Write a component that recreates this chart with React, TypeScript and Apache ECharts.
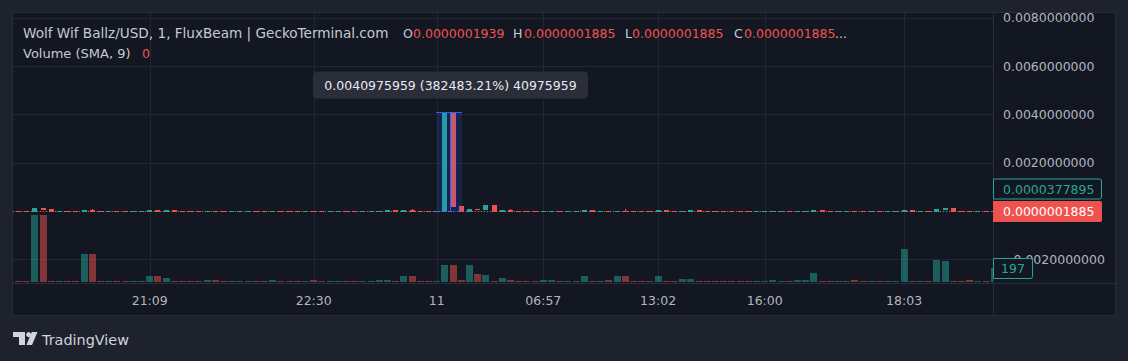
import React, { useEffect, useRef } from "react";
import * as echarts from "echarts";

// ---------- data ----------
const P0 = 1.885e-7; // last price
const P1 = 1.939e-7; // last open
const SPIKE = 0.0040975959;
const U = [P0, P1, P0, P1]; // flat up candle   [open, close, low, high]
const D = [P1, P0, P0, P1]; // flat down candle

// [open, close, low, high]
const CANDLES: number[][] = [
  D, D, [P0, 1.25e-4, P0, 1.25e-4], [1.25e-4, 8.5e-5, 8.5e-5, 1.25e-4], [8.5e-5, P0, P0, 8.5e-5], U, D, D, [P0, 5e-5, P0, 5e-5], [5e-5, P0, P0, 9e-5],
  D, U, D, D, U, U, [P0, 5e-5, P0, 5e-5], [5e-5, P0, P0, 5e-5], [P0, 5e-5, P0, 5e-5], [5e-5, P0, P0, 5e-5],
  D, D, D, U, D, D, U, U, U, D,
  D, U, D, D, D, U, D, D, U, U,
  D, D, U, U, U, [P0, 5e-5, P0, 5e-5], [5e-5, P0, P0, 5e-5], [P0, 5e-5, P0, 5e-5], [5e-5, P0, P0, 9e-5], D,
  D, U, [P0, SPIKE, P0, SPIKE], [SPIKE, 2.1e-4, 2.1e-4, SPIKE], [2.1e-4, P0, P0, 2.1e-4], [P0, 8.5e-5, P0, 8.5e-5], [8.5e-5, 8e-5, 8e-5, 8.5e-5], [8.3e-5, 2.5e-4, 8.3e-5, 2.5e-4], [2.5e-4, P0, P0, 2.5e-4], [P0, 5e-5, P0, 5e-5],
  [5e-5, P0, P0, 9e-5], D, D, D, U, U, D, U, U, [P0, 5e-5, P0, 5e-5],
  [5e-5, P0, P0, 5e-5], U, D, U, [P1, P0, P0, 9e-5], D, D, D, [P0, 5e-5, P0, 5e-5], [5e-5, P0, P0, 5e-5],
  D, U, [P0, 5e-5, P0, 5e-5], [5e-5, P0, P0, 5e-5], D, D, D, D, D, D,
  U, U, U, U, D, U, U, [P0, 5e-5, P0, 5e-5], [5e-5, P0, P0, 5e-5], D,
  U, U, D, D, U, D, U, U, [P0, 5e-5, P0, 5e-5], [5e-5, P0, P0, 5e-5],
  U, D, [P0, 8.5e-5, P0, 8.5e-5], [8.5e-5, 1.25e-4, 8.5e-5, 1.25e-4], [1.25e-4, P0, P0, 1.25e-4], D, D, U, D, U,
];

const VOLUMES = [
  14, 14, 943, 943, 14, 14, 14, 14, 394, 394,
  14, 14, 14, 14, 14, 14, 84, 84, 56, 14,
  14, 14, 14, 28, 28, 14, 14, 14, 14, 14,
  14, 28, 14, 14, 14, 14, 28, 14, 14, 14,
  14, 14, 14, 14, 28, 28, 14, 84, 84, 14,
  14, 14, 239, 239, 28, 239, 113, 98, 14, 56,
  28, 14, 14, 14, 28, 28, 14, 14, 14, 84,
  14, 14, 28, 84, 84, 14, 14, 14, 84, 14,
  14, 42, 42, 14, 14, 14, 14, 14, 14, 14,
  14, 14, 28, 14, 14, 28, 28, 127, 14, 14,
  14, 14, 28, 14, 14, 14, 14, 14, 464, 14,
  14, 14, 310, 295, 14, 14, 28, 14, 14, 197,
];

const TIME_TICKS = [16, 36, 51, 64, 78, 91, 108];
const TIME_LABELS = ["21:09", "22:30", "11", "06:57", "13:02", "16:00", "18:03"];
const PRICE_GRID = [-0.002, 0, 0.002, 0.004, 0.006, 0.008];
const PRICE_LABELS = [-0.002, 0.002, 0.004, 0.006, 0.008];

const TITLE = "Wolf Wif Ballz/USD, 1, FluxBeam | GeckoTerminal.com";
const OHLC_KEYS = ["O", "H", "L", "C"];
const OHLC_VALUES = ["0.0000001939", "0.0000001885", "0.0000001885", "0.0000001885"];
const VOLUME_TITLE = "Volume (SMA, 9)";
const VOLUME_SMA = "0";
const ALT_PRICE_TAG = "0.0000377895";
const LAST_VOLUME = 197;
const MEASURE = { from: 51, to: 54, low: P0, high: SPIKE, label: "0.0040975959 (382483.21%) 40975959" };

// ---------- style ----------
const UPC = "#26a69a";
const DNC = "#ef5350";
const VOL_UP = "rgba(38,166,154,0.5)";
const VOL_DN = "rgba(239,83,80,0.5)";
const GRID = "#222632";
const FONT = "DejaVu Sans";
const FS = 12.5;
const AXIS_TXT = "#b2b5be";
const HDR_TXT = "#c7cad2";

function buildOption(): any {
  const header: any[] = [
    { type: "text", z: 50, style: { text: TITLE, x: 23, y: 33, fill: HDR_TXT, fontSize: 13.6, fontFamily: FONT, verticalAlign: "middle" } },
  ];
  const keyX = [403, 513, 625, 734];
  const valX = [413, 524, 632, 744];
  OHLC_KEYS.forEach((k, i) => {
    header.push({ type: "text", z: 50, style: { text: k, x: keyX[i], y: 33, fill: HDR_TXT, fontSize: FS, fontFamily: FONT, verticalAlign: "middle" } });
    header.push({ type: "text", z: 50, style: { text: OHLC_VALUES[i], x: valX[i], y: 33, fill: DNC, fontSize: FS, fontFamily: FONT, verticalAlign: "middle" } });
  });
  header.push({ type: "text", z: 50, style: { text: "...", x: 835, y: 33, fill: HDR_TXT, fontSize: FS, fontFamily: FONT, verticalAlign: "middle" } });
  header.push({ type: "text", z: 50, style: { text: VOLUME_TITLE, x: 23, y: 53, fill: HDR_TXT, fontSize: 13, fontFamily: FONT, verticalAlign: "middle" } });
  header.push({ type: "text", z: 50, style: { text: VOLUME_SMA, x: 142, y: 53, fill: DNC, fontSize: FS, fontFamily: FONT, verticalAlign: "middle" } });

  const logo: any[] = [
    { type: "rect", z: 50, shape: { x: 13, y: 332, width: 12, height: 5 }, style: { fill: "#d1d4dc" } },
    { type: "rect", z: 50, shape: { x: 19, y: 332, width: 6, height: 13 }, style: { fill: "#d1d4dc" } },
    { type: "circle", z: 50, shape: { cx: 28.6, cy: 334.6, r: 2.5 }, style: { fill: "#d1d4dc" } },
    { type: "polygon", z: 50, shape: { points: [[31.8, 332], [37.5, 332], [32, 345], [26.4, 345]] }, style: { fill: "#d1d4dc" } },
    { type: "text", z: 50, style: { text: "TradingView", x: 42, y: 340, fill: "#d1d4dc", fontSize: 14.4, fontFamily: FONT, verticalAlign: "middle" } },
  ];

  const frame: any[] = [
    { type: "rect", z: -10, shape: { x: 12.5, y: 12.5, width: 1103, height: 303 }, style: { fill: "#131722", stroke: "#2a2e39", lineWidth: 1 } },
    { type: "line", z: -5, shape: { x1: 993.5, y1: 12.5, x2: 993.5, y2: 315.5 }, style: { stroke: "#2a2e39", lineWidth: 1 } },
    { type: "line", z: -5, shape: { x1: 12.5, y1: 283.5, x2: 1115.5, y2: 283.5 }, style: { stroke: "#2a2e39", lineWidth: 1 } },
  ];

  const snapX = (x: number) => Math.round(x - 0.5) + 0.5;

  return {
    animation: false,
    backgroundColor: "#1e222d",
    grid: { left: 13, right: 135, top: 13, bottom: 78, containLabel: false, outerBoundsMode: "none" },
    xAxis: {
      type: "value",
      min: -0.67,
      max: 118.84,
      axisLine: { show: false },
      axisTick: { show: false },
      splitLine: { show: false },
      axisLabel: {
        customValues: TIME_TICKS,
        formatter: (v: number) => {
          const k = TIME_TICKS.indexOf(Math.round(v));
          return k >= 0 ? TIME_LABELS[k] : "";
        },
        color: AXIS_TXT,
        fontSize: FS,
        fontFamily: FONT,
        margin: 11,
      },
    },
    yAxis: [
      {
        type: "value",
        position: "right",
        min: -0.00298,
        max: 0.0082,
        axisLine: { show: false },
        axisTick: { show: false },
        splitLine: { show: false },
        axisLabel: {
          customValues: PRICE_LABELS,
          formatter: (v: number) => (v < 0 ? "\u2212" : "") + Math.abs(v).toFixed(10),
          color: AXIS_TXT,
          fontSize: FS,
          fontFamily: FONT,
          margin: 10,
          align: "left",
        },
      },
      { type: "value", min: -14.07, max: 3785, show: false },
    ],
    graphic: { elements: [...frame, ...header, ...logo] },
    series: [
      {
        type: "custom",
        name: "vgrid",
        silent: true,
        z: 1,
        clip: false,
        data: TIME_TICKS.map((t) => [t, 0]),
        encode: { x: 0, y: 1 },
        renderItem: (params: any, api: any) => {
          const cs = params.coordSys;
          const x = Math.round(api.coord([api.value(0), 0])[0]) + 0.5;
          return { type: "line", shape: { x1: x, y1: cs.y, x2: x, y2: cs.y + cs.height }, style: { stroke: GRID, lineWidth: 1 } };
        },
      },
      {
        type: "custom",
        name: "hgrid",
        silent: true,
        z: 1,
        clip: false,
        data: PRICE_GRID.map((v) => [0, v]),
        encode: { x: 0, y: 1 },
        renderItem: (params: any, api: any) => {
          const cs = params.coordSys;
          const y = Math.round(api.coord([0, api.value(1)])[1]) + 0.5;
          return { type: "line", shape: { x1: cs.x, y1: y, x2: cs.x + cs.width, y2: y }, style: { stroke: GRID, lineWidth: 1 } };
        },
      },
      {
        type: "custom",
        name: "Volume",
        yAxisIndex: 1,
        z: 2,
        clip: true,
        data: VOLUMES.map((v, i) => [i, v, CANDLES[i][1] >= CANDLES[i][0] ? 1 : 0]),
        encode: { x: 0, y: 1 },
        renderItem: (params: any, api: any) => {
          const i = api.value(0);
          const p = api.coord([i, api.value(1)]);
          const b = api.coord([i, 0]);
          const cx = snapX(p[0]);
          const w = 7;
          const bottom = Math.round(b[1]);
          let top = Math.round(p[1]);
          if (bottom - top < 1) top = bottom - 1;
          return { type: "rect", shape: { x: cx - w / 2, y: top, width: w, height: bottom - top }, style: { fill: api.value(2) > 0 ? VOL_UP : VOL_DN } };
        },
      },
      {
        type: "custom",
        name: "lastPriceLine",
        silent: true,
        z: 3,
        clip: false,
        data: [[0, P0]],
        encode: { x: 0, y: 1 },
        renderItem: (params: any, api: any) => {
          const cs = params.coordSys;
          const y = Math.round(api.coord([0, api.value(1)])[1]) + 0.5;
          return { type: "line", shape: { x1: cs.x, y1: y, x2: cs.x + cs.width, y2: y }, style: { stroke: DNC, lineWidth: 1, lineDash: [1, 2] } };
        },
      },
      {
        type: "custom",
        name: "Price",
        z: 4,
        clip: true,
        data: CANDLES.map((c, i) => [i, c[0], c[1], c[2], c[3]]),
        encode: { x: 0, y: [1, 2, 3, 4] },
        renderItem: (params: any, api: any) => {
          const i = api.value(0);
          const o = api.value(1), c = api.value(2), l = api.value(3), h = api.value(4);
          const cx = snapX(api.coord([i, o])[0]);
          const yO = api.coord([i, o])[1], yC = api.coord([i, c])[1];
          const yL = api.coord([i, l])[1], yH = api.coord([i, h])[1];
          const color = c >= o ? UPC : DNC;
          const top = Math.round(Math.min(yO, yC));
          const bot = Math.max(Math.round(Math.max(yO, yC)) + 1, top + 1);
          const wTop = Math.round(yH);
          const wBot = Math.round(yL) + 1;
          const bw = 5;
          return {
            type: "group",
            children: [
              { type: "rect", shape: { x: cx - 0.5, y: wTop, width: 1, height: Math.max(1, wBot - wTop) }, style: { fill: color } },
              { type: "rect", shape: { x: cx - bw / 2, y: top, width: bw, height: bot - top }, style: { fill: color } },
            ],
          };
        },
      },
      {
        type: "custom",
        name: "measure",
        silent: true,
        z: 6,
        clip: false,
        data: [[MEASURE.from, MEASURE.to, MEASURE.low, MEASURE.high]],
        encode: { x: [0, 1], y: [2, 3] },
        renderItem: (params: any, api: any) => {
          const a = api.coord([api.value(0), api.value(3)]);
          const b = api.coord([api.value(1), api.value(2)]);
          const x1 = Math.round(a[0]), x2 = Math.round(b[0]) + 1;
          const yT = Math.round(a[1]) + 0.5, yB = Math.round(b[1]) + 0.5;
          const mx = Math.round((x1 + x2) / 2) + 0.5;
          const bw = 275, bh = 27;
          return {
            type: "group",
            children: [
              { type: "rect", shape: { x: x1, y: yT, width: x2 - x1, height: yB - yT }, style: { fill: "rgba(41,98,255,0.18)" } },
              { type: "line", shape: { x1: x1 - 1, y1: yT, x2: x2, y2: yT }, style: { stroke: "#2962ff", lineWidth: 1 } },
              { type: "line", shape: { x1: x1, y1: yB, x2: x2, y2: yB }, style: { stroke: "#2962ff", lineWidth: 1, lineDash: [2, 2] } },
              { type: "line", shape: { x1: mx, y1: yT, x2: mx, y2: yB }, style: { stroke: "#2962ff", lineWidth: 1 } },
              { type: "rect", shape: { x: mx - bw / 2, y: yT - 14 - bh, width: bw, height: bh, r: 4 }, style: { fill: "#2a2e39" } },
              { type: "text", style: { text: MEASURE.label, x: mx, y: yT - 14 - bh / 2, fill: "#e8eaf0", fontSize: FS, fontFamily: FONT, align: "center", verticalAlign: "middle" } },
            ],
          };
        },
      },
      {
        type: "custom",
        name: "priceTags",
        silent: true,
        z: 20,
        clip: false,
        data: [[118, P0]],
        encode: { x: 0, y: 1 },
        renderItem: (params: any, api: any) => {
          const cs = params.coordSys;
          const x0 = cs.x + cs.width;
          const yc = Math.round(api.coord([0, api.value(1)])[1]) + 0.5;
          const w = 109;
          return {
            type: "group",
            children: [
              { type: "rect", shape: { x: x0 + 0.5, y: yc - 32.5, width: w - 1, height: 20, r: [0, 2, 2, 0] }, style: { fill: "#131722", stroke: UPC, lineWidth: 1 } },
              { type: "text", style: { text: ALT_PRICE_TAG, x: x0 + 10, y: yc - 22, fill: UPC, fontSize: FS, fontFamily: FONT, verticalAlign: "middle" } },
              { type: "rect", shape: { x: x0, y: yc - 10.5, width: w, height: 21, r: [0, 2, 2, 0] }, style: { fill: DNC } },
              { type: "text", style: { text: OHLC_VALUES[3], x: x0 + 10, y: yc, fill: "#ffffff", fontSize: FS, fontFamily: FONT, verticalAlign: "middle" } },
            ],
          };
        },
      },
      {
        type: "custom",
        name: "volumeTag",
        silent: true,
        yAxisIndex: 1,
        z: 20,
        clip: false,
        data: [[118, LAST_VOLUME]],
        encode: { x: 0, y: 1 },
        renderItem: (params: any, api: any) => {
          const cs = params.coordSys;
          const x0 = cs.x + cs.width;
          const yc = Math.round(api.coord([0, api.value(1)])[1]) + 0.5;
          return {
            type: "group",
            children: [
              { type: "rect", shape: { x: x0 + 0.5, y: yc - 10, width: 39, height: 20, r: [0, 2, 2, 0] }, style: { fill: "#131722", stroke: UPC, lineWidth: 1 } },
              { type: "text", style: { text: String(api.value(1)), x: x0 + 20, y: yc, fill: UPC, fontSize: FS, fontFamily: FONT, align: "center", verticalAlign: "middle" } },
            ],
          };
        },
      },
    ],
  };
}

export default function App() {
  const ref = useRef<HTMLDivElement>(null);
  useEffect(() => {
    document.body.style.margin = "0";
    const chart = echarts.init(ref.current as HTMLDivElement, undefined, { renderer: "svg" });
    chart.setOption(buildOption());
    return () => chart.dispose();
  }, []);
  return <div ref={ref} style={{ width: 1128, height: 361 }} />;
}
